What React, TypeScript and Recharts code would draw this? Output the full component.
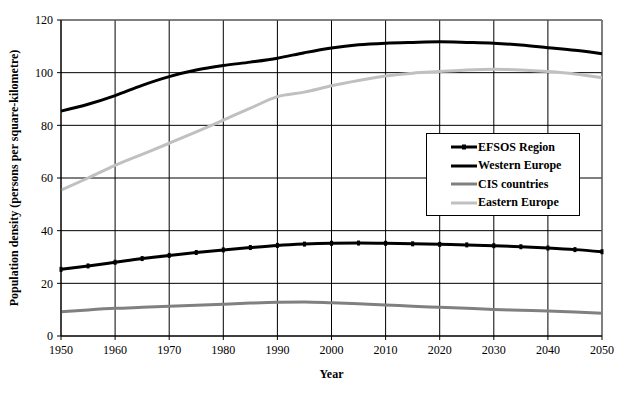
import {
  LineChart,
  Line,
  XAxis,
  YAxis,
  CartesianGrid,
  ReferenceLine
} from 'recharts'

const years = [
  1950, 1955, 1960, 1965, 1970, 1975, 1980, 1985, 1990, 1995, 2000, 2005, 2010,
  2015, 2020, 2025, 2030, 2035, 2040, 2045, 2050
]
const efsos = [
  25.3, 26.6, 28, 29.4, 30.6, 31.7, 32.7, 33.6, 34.4, 34.9, 35.2, 35.3, 35.2,
  35.0, 34.8, 34.6, 34.3, 33.9, 33.4, 32.8, 32.0
]
const western = [
  85.4, 88, 91.3, 95.2, 98.5, 101, 102.7, 104, 105.5, 107.6, 109.4, 110.6, 111.2,
  111.5, 111.7, 111.5, 111.2, 110.5, 109.5, 108.5, 107.2
]
const cis = [
  9.2, 9.9, 10.5, 10.9, 11.3, 11.7, 12.1, 12.5, 12.8, 12.9, 12.6, 12.2, 11.8,
  11.3, 10.9, 10.5, 10.1, 9.8, 9.5, 9.1, 8.6
]
const eastern = [
  55.4, 60, 64.8, 69, 73.2, 77.5, 82, 86.5, 90.9, 92.6, 95, 97, 98.7, 99.8,
  100.4, 101, 101.3, 101, 100.4, 99.5, 98.1
]
const xTicks = [1950, 1960, 1970, 1980, 1990, 2000, 2010, 2020, 2030, 2040, 2050]
const yTicks = [0, 20, 40, 60, 80, 100, 120]

const series = [
  { key: 'efsos', name: 'EFSOS Region', color: '#000000' },
  { key: 'western', name: 'Western Europe', color: '#000000' },
  { key: 'cis', name: 'CIS countries', color: '#808080' },
  { key: 'eastern', name: 'Eastern Europe', color: '#c0c0c0' }
]

const data = years.map((y, i) => ({
  year: y,
  efsos: efsos[i],
  western: western[i],
  cis: cis[i],
  eastern: eastern[i]
}))

const font = '"Liberation Serif", "Times New Roman", serif'

const LegendBox = () => (
  <div
    style={{
      position: 'absolute',
      left: 426,
      top: 133,
      border: '1px solid #000',
      background: '#fff',
      width: 154,
      height: 83,
      boxSizing: 'border-box',
      padding: '4px 0 0 24px',
      fontFamily: font,
      fontWeight: 'bold',
      fontSize: 12
    }}
  >
    {series.map(s => (
      <div
        key={s.key}
        style={{ display: 'flex', alignItems: 'center', height: 18.5 }}
      >
        <svg width={26} height={6}>
          <line x1={0} y1={3} x2={26} y2={3} stroke={s.color} strokeWidth={3} />
          {s.key === 'efsos' && (
            <rect x={11} y={0.5} width={4} height={5} fill='#000' />
          )}
        </svg>
        <span style={{ marginLeft: 1 }}>{s.name}</span>
      </div>
    ))}
  </div>
)

const EfsosDot = (props: any) => {
  const { cx, cy } = props
  if (cx == null || cy == null) return null
  return <rect x={cx - 1.5} y={cy - 2.5} width={3} height={5} fill='#000' />
}

export default function App() {
  return (
    <div style={{ position: 'absolute', left: 0, top: 0, background: '#fff' }}>
      <LineChart
        width={642}
        height={394}
        data={data}
        margin={{ top: 20, right: 40, bottom: 18, left: 0 }}
      >
        <CartesianGrid stroke='#000' strokeWidth={1} />
        <XAxis
          dataKey='year'
          type='number'
          domain={[1950, 2050]}
          ticks={xTicks}
          stroke='#000'
          tickLine={{ stroke: '#000' }}
          tickSize={4}
          tick={{ fill: '#000', fontSize: 12, fontFamily: font, dy: 3 }}
          height={40}
          label={{
            value: 'Year',
            position: 'insideBottom',
            offset: -2,
            style: { fontFamily: font, fontWeight: 'bold', fontSize: 12, fill: '#000' }
          }}
        />
        <YAxis
          type='number'
          domain={[0, 120]}
          ticks={yTicks}
          stroke='#000'
          tickSize={4}
          tick={{ fill: '#000', fontSize: 12, fontFamily: font, dx: -2 }}
          width={61}
          label={{
            value: 'Population density (persons per square-kilometre)',
            angle: -90,
            position: 'insideLeft',
            offset: 14,
            style: {
              fontFamily: font,
              fontWeight: 'bold',
              fontSize: 12,
              fill: '#000',
              textAnchor: 'middle'
            }
          }}
        />
        <ReferenceLine y={120} stroke='#808080' strokeWidth={1} />
        <ReferenceLine x={2050} stroke='#808080' strokeWidth={1} />
        <Line
          type='monotone'
          dataKey='eastern'
          name='Eastern Europe'
          stroke='#c0c0c0'
          strokeWidth={3}
          dot={false}
          isAnimationActive={false}
        />
        <Line
          type='monotone'
          dataKey='cis'
          name='CIS countries'
          stroke='#808080'
          strokeWidth={3}
          dot={false}
          isAnimationActive={false}
        />
        <Line
          type='monotone'
          dataKey='western'
          name='Western Europe'
          stroke='#000'
          strokeWidth={3}
          dot={false}
          isAnimationActive={false}
        />
        <Line
          type='monotone'
          dataKey='efsos'
          name='EFSOS Region'
          stroke='#000'
          strokeWidth={3}
          dot={<EfsosDot />}
          isAnimationActive={false}
        />
      </LineChart>
      <LegendBox />
    </div>
  )
}
